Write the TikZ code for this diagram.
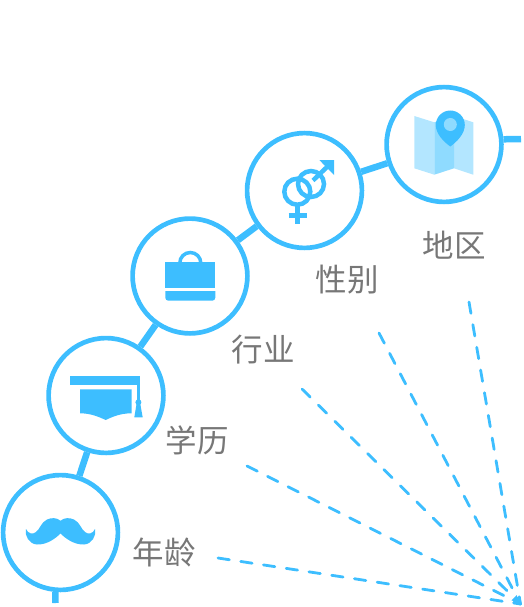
\documentclass[tikz,border=0pt]{standalone}
\usepackage{fontspec}
\usepackage{xcolor}
\newfontfamily\cjk{Noto Sans CJK SC}
\usetikzlibrary{shapes, positioning, arrows.meta}
\definecolor{skyblue}{HTML}{3DBEFF}
\definecolor{skymid}{HTML}{8FDBFF}
\definecolor{skylight}{HTML}{B3E6FF}
\definecolor{labelgray}{HTML}{777777}
\tikzset{
    ring/.style={circle, draw=skyblue, line width=4.7pt, minimum size=114.8pt, inner sep=0pt},
    link/.style={draw=skyblue, line width=6.5pt},
    ray/.style={draw=skyblue, line width=2.8pt, line cap=round, dash pattern=on 11.5pt off 11.5pt},
    tag/.style={text=labelgray, font=\cjk\fontsize{31.5}{32}\selectfont, inner sep=0pt},
    glyph/.style={draw=skyblue, line width=4.5pt}
}

\begin{document}
\begin{tikzpicture}[x=1pt, y=-1pt]
        \useasboundingbox (0, 0) rectangle (523, 607);
        \node[ring] (region) at (444, 144.5) {};
        \node[ring] (gender) at (304.5, 190.5) {};
        \node[ring] (trade) at (190, 276) {};
        \node[ring] (school) at (106, 395.5) {};
        \node[ring] (age) at (60.5, 532.5) {};

        \node[tag] (regiontag) at (454, 245) {地区};
        \node[tag] (gendertag) at (347, 280) {性别};
        \node[tag] (tradetag) at (263, 350) {行业};
        \node[tag] (schooltag) at (197, 440) {学历};
        \node[tag] (agetag) at (164, 552) {年龄};

        \coordinate (east) at (521, 139);
        \coordinate (south) at (55.5, 603);
        \coordinate (tip) at (520.5, 604);
        \coordinate (rayA) at (469, 302);
        \coordinate (rayB) at (379, 333);
        \coordinate (rayC) at (302, 389);
        \coordinate (rayD) at (247, 466);
        \coordinate (rayE) at (218, 558);

        \draw[link] (region.5.3) to (east);
        \draw[link] (region) to (gender);
        \draw[link] (gender) to (trade);
        \draw[link] (trade) to (school);
        \draw[link] (school) to (age);
        \draw[link] (age.265) to (south);

        \foreach \n in {A, B, D, E}
            \draw[ray] (ray\n) to (tip);
        \draw[ray, -{Latex[length=9pt, width=8pt]}] (rayC) to (tip);

        % map
        \fill[skylight] (414.3, 116) -- (434.3, 122.3) -- (434.3, 174.7) -- (414.3, 168.3) -- cycle;
        \fill[skylight] (454, 116) -- (473.3, 122.3) -- (473.3, 174.7) -- (454, 168.3) -- cycle;
        \fill[skymid] (434.3, 122.3) -- (454, 116) -- (454, 168.3) -- (434.3, 174.7) -- cycle;
        \fill[skyblue] (450.3, 146.5) .. controls (444, 142) and (435.8, 134) .. (435.8, 125)
            arc[start angle=180, end angle=0, radius=14.5pt]
            .. controls (464.8, 134) and (456.6, 142) .. (450.3, 146.5) -- cycle;
        \fill[skymid] (450.3, 124.5) circle (6.5);

        % gender
        \draw[glyph] (297.3, 191.7) circle (13);
        \draw[glyph] (311, 184) circle (13);
        \draw[glyph] (313, 180.5) -- (328, 166);
        \fill[skyblue] (319.3, 160) -- (334, 160) -- (334, 175) -- cycle;
        \draw[glyph, line width=5pt] (297.3, 205) -- (297.3, 224.3);
        \draw[glyph, line width=5pt] (288.7, 215.3) -- (306.7, 215.3);

        % bag
        \fill[skyblue] (165.3, 262.3) rectangle (215.3, 288.3);
        \fill[skyblue] (165.3, 291) -- (215.3, 291) -- (215.3, 297.7) arc[start angle=0, end angle=-90, radius=3pt] -- (168.3, 300.7) arc[start angle=-90, end angle=-180, radius=3pt] -- cycle;
        \draw[draw=skyblue, line width=3.5pt] (179.8, 263) arc[start angle=180, end angle=0, radius=10.5pt];

        % cap
        \fill[skyblue] (69.7, 376) rectangle (140, 384.7);
        \fill[skyblue] (137, 384.7) rectangle (140, 402);
        \fill[skyblue] (138.4, 402.3) circle (3);
        \fill[skyblue] (136.5, 404) -- (134.3, 417.3) -- (142.7, 417.3) -- (140.3, 404) -- cycle;
        \fill[skyblue] (80, 389.3) -- (131.7, 389.3) -- (131.7, 413.3)
            .. controls (120, 413.3) and (112, 417) .. (105.7, 420)
            .. controls (99, 417) and (91, 413.3) .. (80, 413.3) -- cycle;

        % moustache
        \fill[skyblue] (60.5, 520.7)
            .. controls (64, 517.5) and (70, 517.5) .. (74, 519.5)
            .. controls (80, 522.5) and (81, 529) .. (85, 532)
            .. controls (88, 534.5) and (93, 534) .. (95, 529)
            .. controls (96.5, 536) and (92, 544) .. (84, 544.5)
            .. controls (74, 545) and (65, 538) .. (60.5, 533.5)
            .. controls (56, 538) and (47, 545) .. (37, 544.5)
            .. controls (29, 544) and (24.5, 536) .. (26, 529)
            .. controls (28, 534) and (33, 534.5) .. (36, 532)
            .. controls (40, 529) and (41, 522.5) .. (47, 519.5)
            .. controls (51, 517.5) and (57, 517.5) .. (60.5, 520.7) -- cycle;
    \end{tikzpicture}
\end{document}
